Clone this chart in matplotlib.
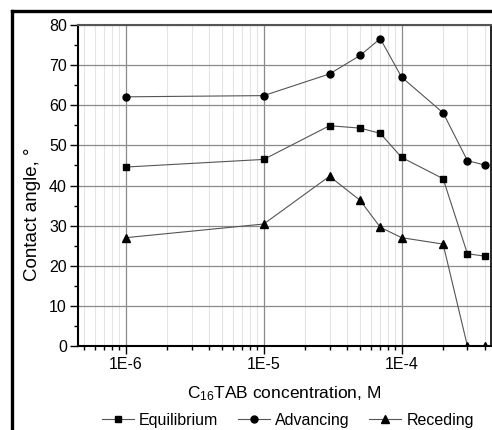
import numpy as np
import matplotlib
matplotlib.use("Agg")
import matplotlib.pyplot as plt
from matplotlib.lines import Line2D
from matplotlib.ticker import LogLocator, FixedLocator, MultipleLocator

plt.rcParams["font.family"] = ["Liberation Sans", "DejaVu Sans"]
plt.rcParams["mathtext.default"] = "regular"

# concentration of C16TAB, M
conc = [1e-6, 1e-5, 3e-5, 5e-5, 7e-5, 1e-4, 2e-4, 3e-4, 4e-4]
equilibrium = [44.6, 46.5, 54.9, 54.3, 53.0, 47.0, 41.7, 23.0, 22.4]
advancing = [62.1, 62.4, 67.8, 72.4, 76.6, 67.0, 58.1, 46.2, 45.1]
receding = [27.0, 30.4, 42.3, 36.3, 29.6, 27.0, 25.4, 0.0, 0.0]

xtick_vals = [1e-6, 1e-5, 1e-4]
xtick_labels = ["1E-6", "1E-5", "1E-4"]

fig = plt.figure(figsize=(4.92, 4.30), dpi=100)
ax = fig.add_axes([0.1585, 0.1953, 0.8395, 0.7466])

line_kw = dict(color="#555555", lw=0.8, mfc="black", mec="black")
ax.plot(conc, equilibrium, marker="s", ms=4.4, label="Equilibrium", **line_kw)
ax.plot(conc, advancing, marker="o", ms=5, label="Advancing", **line_kw)
ax.plot(conc, receding, marker="^", ms=5.6, label="Receding", **line_kw)

ax.set_xscale("log")
ax.set_xlim(4.5e-7, 4.45e-4)
ax.set_ylim(0, 80)
ax.xaxis.set_major_locator(FixedLocator(xtick_vals))
ax.set_xticks(xtick_vals)
ax.set_xticklabels(xtick_labels)
ax.xaxis.set_minor_locator(LogLocator(base=10, subs=np.arange(2, 10)))
ax.xaxis.set_minor_formatter(plt.NullFormatter())
ax.yaxis.set_major_locator(MultipleLocator(10))
ax.yaxis.set_minor_locator(MultipleLocator(5))

ax.grid(which="major", color="#8a8a8a", lw=0.9)
ax.grid(which="minor", axis="x", color="#e4e4e4", lw=0.8)
ax.set_axisbelow(True)

ax.tick_params(which="major", direction="out", length=6, width=1, labelsize=11.5, pad=2)
ax.tick_params(which="minor", direction="out", length=3, width=1)

for side in ["left", "bottom"]:
    ax.spines[side].set_linewidth(1.5)
    ax.spines[side].set_color("black")
ax.spines["top"].set_color("#555555")
ax.spines["top"].set_linewidth(1.5)
ax.spines["right"].set_linewidth(1.2)

ax.set_ylabel("Contact angle, °", fontsize=13.5)
ax.yaxis.set_label_coords(-0.09, 0.41)
ax.set_xlabel("C$_{16}$TAB concentration, M", fontsize=12.5)
ax.xaxis.set_label_coords(0.5, -0.12)

fig.legend(loc="center", bbox_to_anchor=(0.585, 0.023), ncol=3,
           frameon=False, fontsize=11.5, handlelength=2.0, handletextpad=0.35,
           columnspacing=1.2)

# frame around the figure (cropped on right and bottom)
fig.add_artist(Line2D([12 / 492, 12 / 492], [0, 1 - 11 / 430], color="black", lw=2.4,
                      transform=fig.transFigure))
fig.add_artist(Line2D([12 / 492, 1], [1 - 11 / 430, 1 - 11 / 430], color="black", lw=2.4,
                      transform=fig.transFigure))

fig.savefig("out.png", dpi=100)
